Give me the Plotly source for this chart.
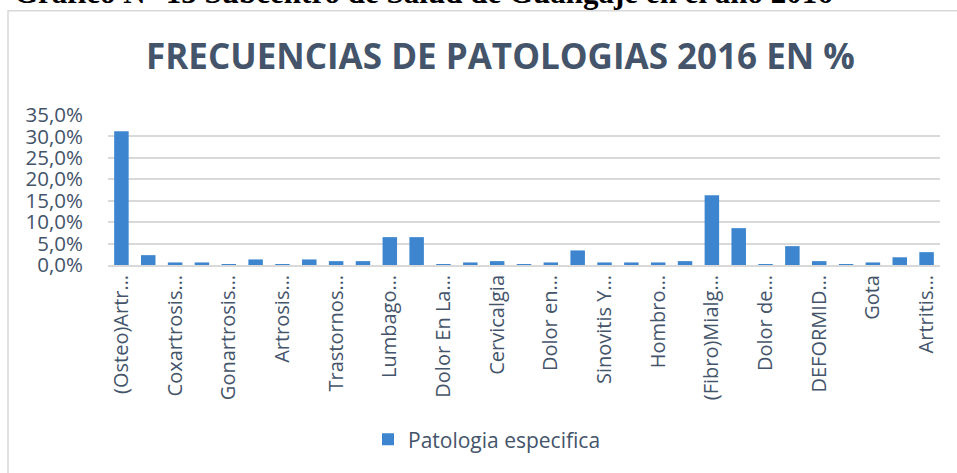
import plotly.graph_objects as go

# Category labels (every other one is shown on the axis, as in the reference)
categories = [
    "(Osteo)Artr…", "Categoría 2", "Coxartrosis…", "Categoría 4",
    "Gonartrosis…", "Categoría 6", "Artrosis…", "Categoría 8",
    "Trastornos…", "Categoría 10", "Lumbago…", "Categoría 12",
    "Dolor En La…", "Categoría 14", "Cervicalgia", "Categoría 16",
    "Dolor en…", "Categoría 18", "Sinovitis Y…", "Categoría 20",
    "Hombro…", "Categoría 22", "(Fibro)Mialg…", "Categoría 24",
    "Dolor de…", "Categoría 26", "DEFORMID…", "Categoría 28",
    "Gota", "Categoría 30", "Artritis…",
]
values = [
    31.2, 2.3, 0.6, 0.6, 0.1, 1.3, 0.1, 1.3, 0.9, 0.9,
    6.5, 6.5, 0.1, 0.6, 0.9, 0.1, 0.6, 3.4, 0.6, 0.6,
    0.6, 0.9, 16.3, 8.6, 0.1, 4.4, 0.9, 0.1, 0.6, 1.8, 3.0,
]
shown_ticks = categories[::2]
series_name = "Patologia especifica"
chart_title = "FRECUENCIAS DE PATOLOGIAS 2016 EN %"
heading = "Gráfico N° 13 Subcentro de Salud de Guangaje en el año 2016"

W, H = 957, 473
L, R = 108, 940
T, B = 115, 264.7

def px_x(p):
    return (p - L) / (R - L)

def px_y(p):
    return (B - p) / (B - T)

text_col = "#44546A"
font_family = "Open Sans, sans-serif"

fig = go.Figure()
fig.add_trace(go.Bar(
    x=categories, y=values, name=series_name,
    marker=dict(color="#3D86CF", line=dict(width=0)),
    showlegend=True,
))

fig.update_layout(
    width=W, height=H,
    margin=dict(l=L, r=W - R, t=T, b=H - B, pad=0),
    paper_bgcolor="white", plot_bgcolor="white",
    separators=",.",
    bargap=0.46,
    font=dict(family=font_family, color=text_col, size=20),
    xaxis=dict(
        type="category",
        tickmode="array", tickvals=shown_ticks, ticktext=shown_ticks,
        tickangle=-90, showgrid=False, ticks="", showline=True,
        linecolor="#D9D9D9", linewidth=2,
        tickfont=dict(size=20, color=text_col, family=font_family),
        automargin=False,
    ),
    yaxis=dict(
        range=[0, 35], dtick=5, tickformat=".1f", ticksuffix="%",
        showgrid=True, gridcolor="#D9D9D9", gridwidth=2,
        zeroline=False, showline=False, ticks="",
        ticklabelstandoff=24,
        tickfont=dict(size=20.5, color=text_col, family=font_family),
        automargin=False,
    ),
    showlegend=True,
    legend=dict(
        orientation="h", x=px_x(368), xanchor="left",
        y=px_y(439), yanchor="middle",
        font=dict(size=21, color=text_col, family=font_family),
        bgcolor="rgba(0,0,0,0)", itemwidth=30,
    ),
    annotations=[
        dict(text="<b>" + chart_title + "</b>", xref="paper", yref="paper",
             x=px_x(500), y=px_y(56), xanchor="center", yanchor="middle",
             showarrow=False,
             font=dict(size=35, color=text_col, family=font_family)),
        dict(text="<b>" + heading + "</b>", xref="paper", yref="paper",
             x=px_x(12), y=px_y(12), xanchor="left", yanchor="bottom",
             showarrow=False,
             font=dict(size=31, color="black", family="Liberation Serif, Times New Roman, serif")),
    ],
    shapes=[
        dict(type="rect", xref="paper", yref="paper",
             x0=px_x(8), x1=px_x(1000), y0=px_y(520), y1=px_y(11),
             line=dict(color="#D9D9D9", width=1.5), fillcolor="rgba(0,0,0,0)",
             layer="below"),
    ],
)

fig.write_html(
    "out.html",
    config={"displayModeBar": False},
    post_script="document.body.style.margin='0px';document.body.style.overflow='hidden';",
)
